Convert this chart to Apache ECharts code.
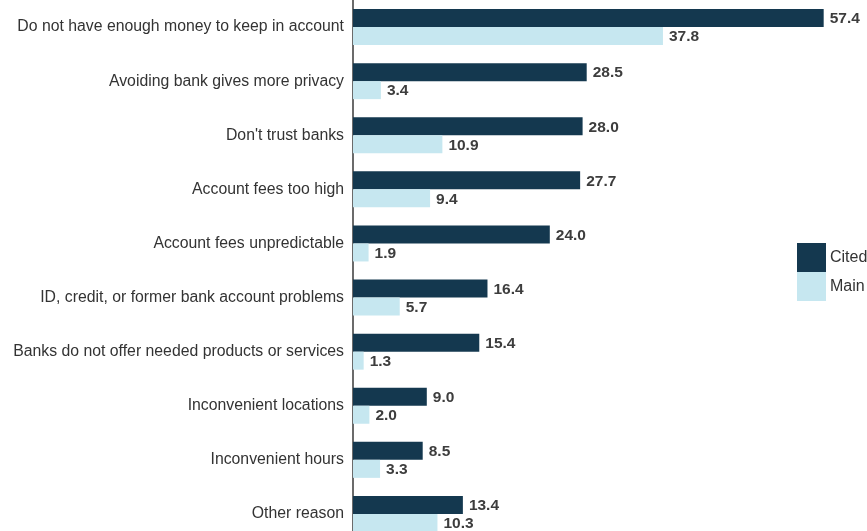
<!DOCTYPE html>
<html>
<head>
<meta charset="utf-8">
<script src="https://cdn.jsdelivr.net/npm/echarts@6/dist/echarts.min.js"></script>
<style>
  html, body { margin: 0; padding: 0; background: #fff; overflow: hidden; }
  /* The last row runs slightly past the bottom edge of the page */
  #chart { width: 867px; height: 541px; }
</style>
</head>
<body>
<div id="chart"></div>
<script>
// Reasons for not having a bank account (percent of households)
const categories = [
  'Do not have enough money to keep in account',
  'Avoiding bank gives more privacy',
  "Don't trust banks",
  'Account fees too high',
  'Account fees unpredictable',
  'ID, credit, or former bank account problems',
  'Banks do not offer needed products or services',
  'Inconvenient locations',
  'Inconvenient hours',
  'Other reason'
];
const citedValues = [57.4, 28.5, 28.0, 27.7, 24.0, 16.4, 15.4, 9.0, 8.5, 13.4];
const mainValues  = [37.8, 3.4, 10.9, 9.4, 1.9, 5.7, 1.3, 2.0, 3.3, 10.3];
const seriesNames = ['Cited', 'Main'];

const FONT = '"Liberation Sans", Arial, Helvetica, sans-serif';
const valueLabel = {
  show: true,
  position: 'right',
  distance: 6,
  offset: [0, 1],
  fontFamily: FONT,
  fontSize: 15.5,
  fontWeight: 'bold',
  color: '#3d3d3d',
  formatter: p => p.value.toFixed(1)
};

const chart = echarts.init(document.getElementById('chart'), null, { renderer: 'canvas' });
chart.setOption({
  animation: false,
  legend: {
    orient: 'vertical',
    left: 797,
    top: 243,
    padding: 0,
    itemWidth: 29,
    itemHeight: 29,
    itemGap: 0,
    icon: 'rect',
    selectedMode: false,
    textStyle: { fontFamily: FONT, fontSize: 16, color: '#333', padding: [0, 0, 0, -1] },
    data: seriesNames
  },
  grid: { left: 353, top: 0, width: 492, height: 541, containLabel: false },
  xAxis: {
    type: 'value',
    min: 0,
    max: 60,
    show: false,
    splitLine: { show: false }
  },
  yAxis: {
    type: 'category',
    data: categories,
    inverse: true,
    axisLine: { show: true, lineStyle: { color: '#6b6b6b', width: 2 } },
    axisTick: { show: false },
    axisLabel: { fontFamily: FONT, fontSize: 15.8, color: '#333', margin: 9, padding: [4, 0, 0, 0] }
  },
  series: [
    {
      name: seriesNames[0],
      type: 'bar',
      data: citedValues,
      barWidth: 18,
      barGap: '0%',
      itemStyle: { color: '#14384f' },
      label: valueLabel
    },
    {
      name: seriesNames[1],
      type: 'bar',
      data: mainValues,
      barWidth: 18,
      barGap: '0%',
      itemStyle: { color: '#c6e7f0' },
      label: valueLabel
    }
  ]
});
</script>
</body>
</html>
